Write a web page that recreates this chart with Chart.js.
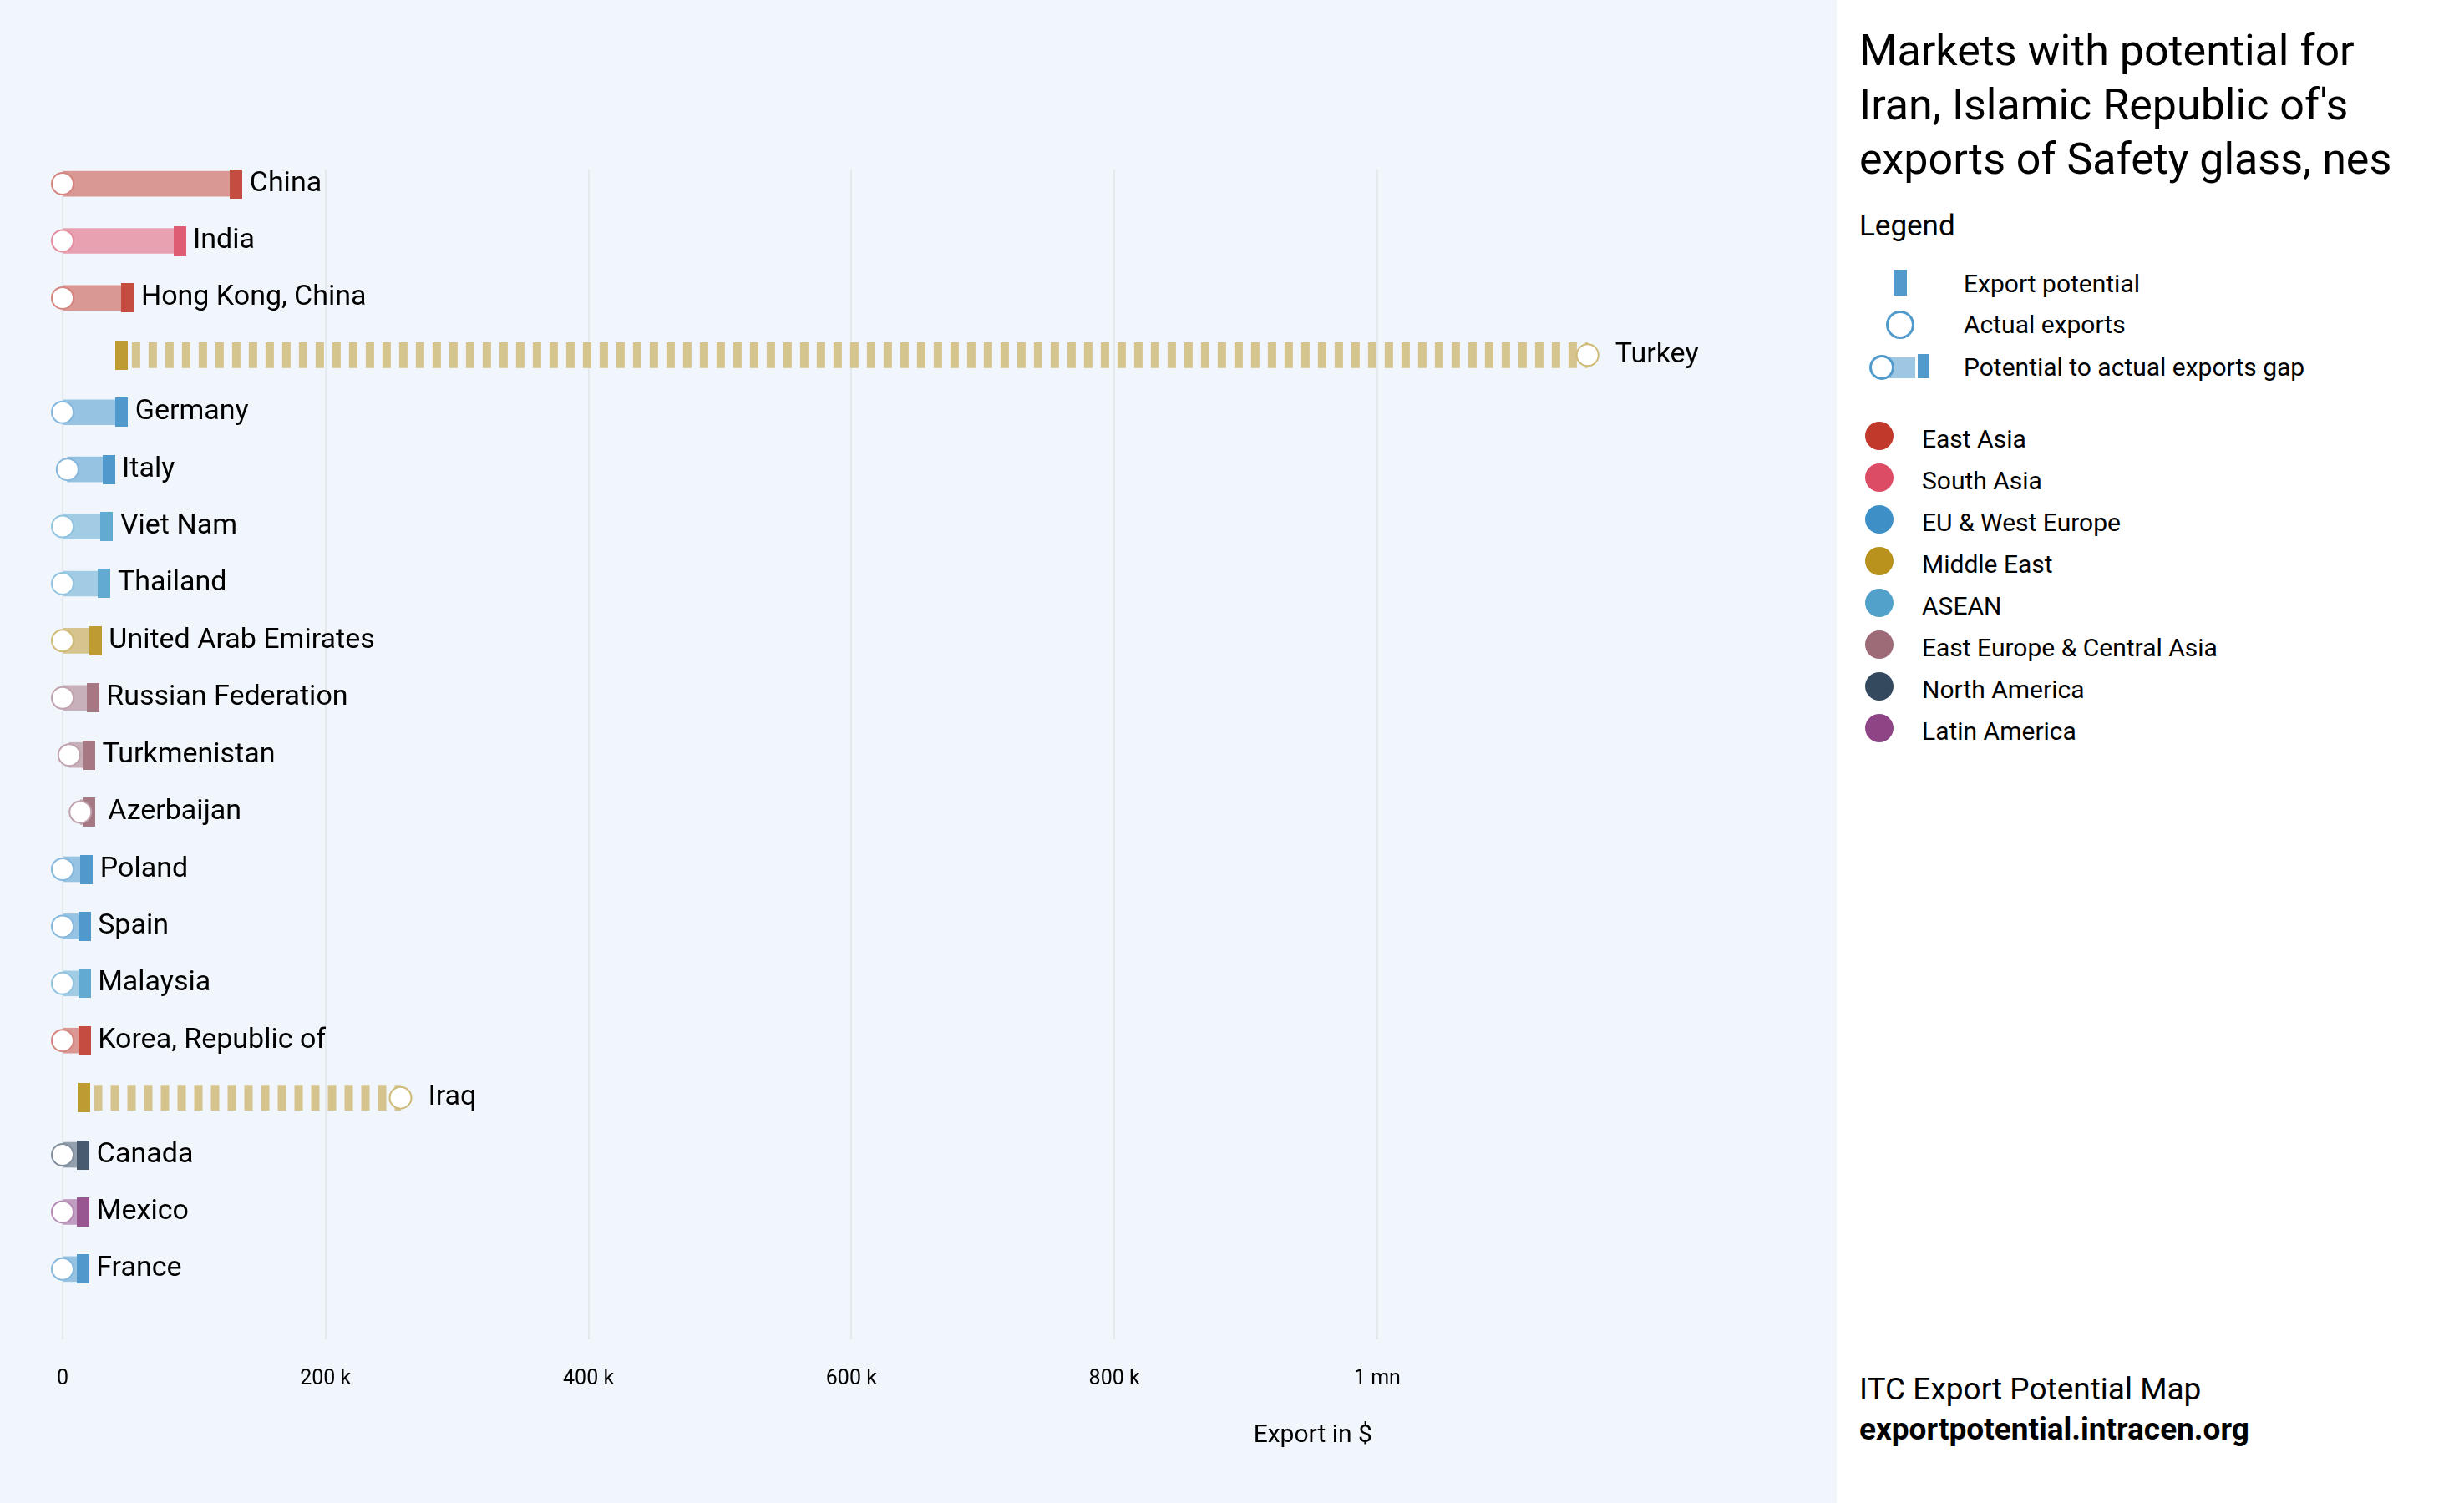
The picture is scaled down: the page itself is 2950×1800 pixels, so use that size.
<!DOCTYPE html>
<html>
<head>
<meta charset="utf-8">
<script src="https://cdn.jsdelivr.net/npm/chart.js@4"></script>
<style>
  body { margin: 0; width: 2950px; height: 1800px; display: flex; font-family: Roboto, sans-serif; color: #000; }
  #left { width: 2199px; height: 1800px; background: #f1f6fd; position: relative; flex: none; }
  #right { width: 751px; height: 1800px; background: #fff; position: relative; flex: none; }
  #right div { position: absolute; white-space: nowrap; }
  .title { left: 27px; top: 28px; font-size: 52px; line-height: 65px; }
  .legend-head { left: 27px; top: 251px; font-size: 35px; line-height: 40px; }
  .item { left: 152px; font-size: 30px; line-height: 36px; }
  .region { left: 102px; font-size: 30px; line-height: 36px; }
  .dot { left: 34px; width: 34px; height: 34px; border-radius: 50%; }
  .foot { left: 27px; font-size: 37px; line-height: 44px; }
</style>
</head>
<body>
<div id="left"><canvas id="chart"></canvas></div>
<div id="right"></div>
<script>
const categories = ['China', 'India', 'Hong Kong, China', 'Turkey', 'Germany', 'Italy', 'Viet Nam', 'Thailand',
  'United Arab Emirates', 'Russian Federation', 'Turkmenistan', 'Azerbaijan', 'Poland', 'Spain', 'Malaysia',
  'Korea, Republic of', 'Iraq', 'Canada', 'Mexico', 'France'];
const regionOf = [0, 1, 0, 3, 2, 2, 4, 4, 3, 5, 5, 5, 2, 2, 4, 0, 3, 6, 7, 2];
const potential = [132000, 89000, 49500, 45000, 45000, 35000, 33600, 31700, 25000, 23000, 20000, 20000,
  18300, 16600, 16600, 16600, 16200, 15800, 15800, 15400];
const actual = [0, 0, 0, 1160000, 0, 3700, 0, 0, 0, 0, 5000, 13500, 0, 0, 0, 0, 257000, 0, 0, 0];
const tickValues = [0, 200000, 400000, 600000, 800000, 1000000];
const tickLabels = ['0', '200 k', '400 k', '600 k', '800 k', '1 mn'];
const regionNames = ['East Asia', 'South Asia', 'EU & West Europe', 'Middle East', 'ASEAN',
  'East Europe & Central Asia', 'North America', 'Latin America'];
const regionColors = ['#c0392b', '#dc4c64', '#3d8fc6', '#b8921c', '#52a1cb', '#9d6a77', '#34495e', '#8e4585'];

// blend a colour over the panel background, giving an opaque tint
function tint(hex, a, bg = [241, 246, 253]) {
  const n = parseInt(hex.slice(1), 16);
  const c = [n >> 16, (n >> 8) & 255, n & 255].map((v, k) => Math.round(v * a + bg[k] * (1 - a)));
  return `rgb(${c.join(',')})`;
}

function markerImage(color) {
  const c = document.createElement('canvas');
  c.width = 15; c.height = 35;
  const g = c.getContext('2d');
  g.fillStyle = color;
  g.fillRect(0, 0, 15, 35);
  return c;
}
const markers = regionColors.map(c => markerImage(tint(c, 0.9)));

function stripes(chart, color, startValue) {
  const c = document.createElement('canvas');
  c.width = 20; c.height = 10;
  const g = c.getContext('2d');
  g.fillStyle = color;
  g.fillRect(0, 0, 10, 10);
  const p = chart.ctx.createPattern(c, 'repeat');
  const x0 = chart.scales.x.getPixelForValue(startValue) + 12;
  p.setTransform(new DOMMatrix().translate(x0, 0));
  return p;
}

function gapFill(ctx) {
  const i = ctx.dataIndex;
  if (i === undefined) return 'transparent';
  const col = tint(regionColors[regionOf[i]], 0.5);
  return actual[i] > potential[i] ? stripes(ctx.chart, col, potential[i]) : col;
}

const rowLabels = {
  id: 'rowLabels',
  afterDatasetsDraw(chart) {
    const { ctx, scales: { x, y }, chartArea } = chart;
    ctx.save();
    ctx.fillStyle = '#000';
    ctx.textBaseline = 'middle';
    ctx.font = '34px Roboto';
    categories.forEach((name, i) => {
      const px = Math.max(x.getPixelForValue(potential[i]) + 16, x.getPixelForValue(actual[i]) + 33);
      ctx.fillText(name, px, y.getPixelForValue(i));
    });
    ctx.font = '30px Roboto';
    ctx.textAlign = 'center';
    ctx.fillText('Export in $', x.getPixelForValue(951000), chartArea.bottom + 115);
    ctx.restore();
  }
};

Chart.defaults.font.family = 'Roboto';
Chart.defaults.color = '#000';

new Chart(document.getElementById('chart'), {
  type: 'bar',
  data: {
    labels: categories,
    datasets: [{
      type: 'bar',
      label: 'Potential to actual exports gap',
      indexAxis: 'y',
      data: categories.map((c, i) => ({ x: [actual[i], potential[i]], y: i })),
      backgroundColor: gapFill,
      barThickness: 30,
      order: 3,
      clip: false
    },
    {
      type: 'scatter',
      label: 'Export potential',
      data: categories.map((c, i) => ({ x: potential[i], y: i })),
      pointStyle: ctx => ctx.dataIndex === undefined ? 'rect' : markers[regionOf[ctx.dataIndex]],
      pointRadius: 8,
      order: 2,
      clip: false
    },
    {
      type: 'scatter',
      label: 'Actual exports',
      data: categories.map((c, i) => ({ x: actual[i], y: i })),
      pointRadius: 13,
      pointBorderWidth: 2,
      pointBackgroundColor: '#fff',
      pointBorderColor: ctx => ctx.dataIndex === undefined ? '#999' : tint(regionColors[regionOf[ctx.dataIndex]], 0.6),
      order: 1,
      clip: false
    }]
  },
  options: {
    responsive: true,
    maintainAspectRatio: false,
    animation: false,
    layout: { padding: { top: 203, left: 75, right: 1, bottom: 100 } },
    plugins: { legend: { display: false }, tooltip: { enabled: false } },
    scales: {
      x: {
        type: 'linear',
        min: 0,
        max: 1340000,
        offset: false,
        border: { display: false },
        grid: { color: '#e4e9ee', lineWidth: 2, drawTicks: false, offset: false },
        ticks: {
          padding: 33,
          maxRotation: 0,
          autoSkip: false,
          font: { size: 25 },
          callback: v => tickLabels[tickValues.indexOf(v)]
        },
        afterBuildTicks: s => { s.ticks = tickValues.map(v => ({ value: v })); }
      },
      y: {
        type: 'linear',
        reverse: true,
        min: -0.25,
        max: 20.23,
        offset: false,
        grid: { offset: false },
        display: false
      }
    }
  },
  plugins: [rowLabels]
});

// side panel: title, legends and source
const right = document.getElementById('right');
const white = [255, 255, 255];
const blue = regionColors[2];
function add(cls, html, style) {
  const d = document.createElement('div');
  d.className = cls;
  d.innerHTML = html;
  Object.assign(d.style, style || {});
  right.appendChild(d);
  return d;
}
add('title', "Markets with potential for<br>Iran, Islamic Republic of's<br>exports of Safety glass, nes");
add('legend-head', 'Legend');
const items = ['Export potential', 'Actual exports', 'Potential to actual exports gap'];
const itemY = [340, 389, 440];
items.forEach((t, k) => add('item', t, { top: (itemY[k] - 18) + 'px' }));
add('', '', { left: '68px', top: '323px', width: '16px', height: '31px', background: tint(blue, 0.9, white) });
add('', '', { left: '59px', top: '372px', width: '34px', height: '34px', boxSizing: 'border-box',
  border: '3px solid ' + tint(blue, 0.9, white), borderRadius: '50%', background: '#fff' });
add('', '', { left: '54px', top: '428px', width: '40px', height: '25px', background: tint(blue, 0.5, white) });
add('', '', { left: '97px', top: '424px', width: '14px', height: '29px', background: tint(blue, 0.9, white) });
add('', '', { left: '39px', top: '425px', width: '30px', height: '30px', boxSizing: 'border-box',
  border: '3px solid ' + tint(blue, 0.9, white), borderRadius: '50%', background: '#fff' });
regionNames.forEach((name, k) => {
  const cy = 522 + 50 * k;
  add('dot', '', { top: (cy - 17) + 'px', background: regionColors[k] });
  add('region', name, { top: (cy - 14) + 'px' });
});
add('foot', 'ITC Export Potential Map', { top: '1642px' });
add('foot', '<b>exportpotential.intracen.org</b>', { top: '1690px' });
</script>
</body>
</html>
